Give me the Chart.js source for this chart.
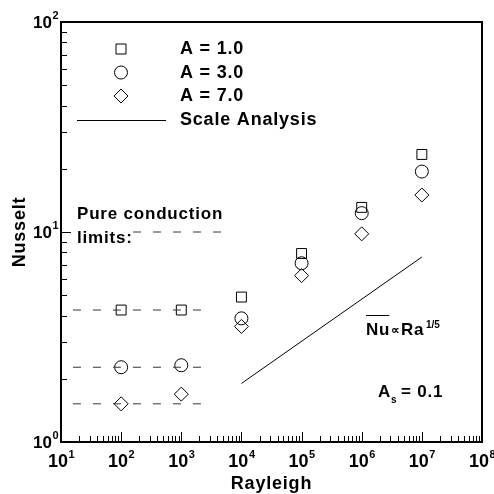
<!DOCTYPE html>
<html>
<head>
<meta charset="utf-8">
<script src="https://cdn.jsdelivr.net/npm/chart.js@4.4.1/dist/chart.umd.min.js"></script>
<style>
body{margin:0;background:#fff;}
canvas{display:block;}
</style>
</head>
<body>
<canvas id="nusseltChart" width="494" height="494"></canvas>
<script>
// Nusselt vs Rayleigh, three aspect ratios
const rayleigh = [1e2, 1e3, 1e4, 1e5, 1e6, 1e7];
const nuA1 = [4.25, 4.25, 4.9, 7.9, 13.1, 23.4];
const nuA3 = [2.27, 2.32, 3.88, 7.1, 12.3, 19.4];
const nuA7 = [1.52, 1.69, 3.55, 6.2, 9.8, 15.0];

// scale analysis, Nu ~ Ra^(1/5)
const scaleRa = [1e4, 1e7];
const scaleNu = [1.9, 7.6];

// pure conduction limits (dashed)
const condRa = [15.8, 2220];
const condA1 = 4.25;
const condA3 = 2.27;
const condA7 = 1.52;
const condKeyRa = [158, 5150];
const condKeyNu = 10;

const xExponents = [1, 2, 3, 4, 5, 6, 7, 8];
const yExponents = [0, 1, 2];

const legendLabels = ["A = 1.0", "A = 3.0", "A = 7.0", "Scale Analysis"];

const FONT = '"Liberation Sans", Arial, Helvetica, sans-serif';

function pts(xs, ys) {
    return xs.map((x, i) => ({x: x, y: Array.isArray(ys) ? ys[i] : ys}));
}

function dashed(xs, y) {
    return {
        data: pts(xs, y),
        showLine: true,
        pointRadius: 0,
        borderColor: '#333',
        borderWidth: 1,
        borderDash: [8, 12]
    };
}

function markers(ys, style, r) {
    return {
        data: pts(rayleigh, ys),
        showLine: false,
        pointStyle: style,
        pointRadius: r,
        pointHoverRadius: r,
        pointBorderWidth: 1,
        borderColor: '#000',
        backgroundColor: 'rgba(0,0,0,0)'
    };
}

function decadeValues(min, max) {
    let out = [];
    for (let d = Math.floor(Math.log10(min)); d <= Math.ceil(Math.log10(max)); d++) {
        for (let m = 1; m <= 9; m++) {
            let v = m * Math.pow(10, d);
            if (v >= min * 0.999 && v <= max * 1.001) out.push({v: v, major: m === 1});
        }
    }
    return out;
}

function drawPow(ctx, base, exp, x, y, size, esize, align) {
    ctx.font = 'bold ' + size + 'px ' + FONT;
    let wb = ctx.measureText(base).width;
    ctx.font = 'bold ' + esize + 'px ' + FONT;
    let we = ctx.measureText(exp).width;
    let x0 = align === 'right' ? x - wb - we : x - (wb + we) / 2;
    ctx.textAlign = 'left';
    ctx.textBaseline = 'alphabetic';
    ctx.font = 'bold ' + size + 'px ' + FONT;
    ctx.fillText(base, x0, y);
    ctx.font = 'bold ' + esize + 'px ' + FONT;
    ctx.fillText(exp, x0 + wb + 0.5, y - size * 0.52);
}

const framePlugin = {
    id: 'frame',
    afterDraw(chart) {
        const ctx = chart.ctx, a = chart.chartArea;
        const xs = chart.scales.x, ys = chart.scales.y;
        ctx.save();
        ctx.strokeStyle = '#000';
        ctx.fillStyle = '#000';
        ctx.lineWidth = 1;

        // inward ticks
        ctx.beginPath();
        decadeValues(xs.min, xs.max).forEach(t => {
            let px = Math.round(xs.getPixelForValue(t.v)) + 0.5;
            ctx.moveTo(px, a.bottom);
            ctx.lineTo(px, a.bottom - (t.major ? 10 : 6));
        });
        decadeValues(ys.min, ys.max).forEach(t => {
            let py = Math.round(ys.getPixelForValue(t.v)) + 0.5;
            ctx.moveTo(a.left, py);
            ctx.lineTo(a.left + (t.major ? 10 : 6), py);
        });
        ctx.stroke();

        ctx.lineWidth = 2;
        ctx.strokeRect(a.left, a.top, a.right - a.left, a.bottom - a.top);

        // tick labels
        xExponents.forEach(e => {
            drawPow(ctx, '10', String(e), xs.getPixelForValue(Math.pow(10, e)), a.bottom + 25, 18, 11, 'center');
        });
        yExponents.forEach(e => {
            drawPow(ctx, '10', String(e), a.left - 3, ys.getPixelForValue(Math.pow(10, e)) + 6, 17, 11, 'right');
        });

        ctx.letterSpacing = '0.8px';

        // axis titles
        ctx.font = 'bold 18px ' + FONT;
        ctx.textAlign = 'center';
        ctx.textBaseline = 'alphabetic';
        ctx.fillText('Rayleigh', (a.left + a.right) / 2, 489);
        ctx.save();
        ctx.translate(25, (a.top + a.bottom) / 2);
        ctx.rotate(-Math.PI / 2);
        ctx.fillText('Nusselt', 0, 0);
        ctx.restore();

        // legend
        ctx.lineWidth = 1;
        let lx = 121, rows = [49, 72.5, 96, 120];
        ctx.beginPath();
        ctx.rect(lx - 5, rows[0] - 5, 10, 10);
        ctx.moveTo(lx + 6.5, rows[1]);
        ctx.arc(lx, rows[1], 6.5, 0, Math.PI * 2);
        ctx.moveTo(lx, rows[2] - 7);
        ctx.lineTo(lx + 7, rows[2]);
        ctx.lineTo(lx, rows[2] + 7);
        ctx.lineTo(lx - 7, rows[2]);
        ctx.closePath();
        ctx.moveTo(77, rows[3] + 0.5);
        ctx.lineTo(166, rows[3] + 0.5);
        ctx.stroke();

        ctx.font = 'bold 18px ' + FONT;
        ctx.textAlign = 'left';
        legendLabels.forEach((t, i) => ctx.fillText(t, 180, rows[i] + 5));

        // annotations
        ctx.font = 'bold 17px ' + FONT;
        ctx.fillText('Pure conduction', 77, 219);
        ctx.fillText('limits:', 77, 243);

        ctx.fillText('Nu', 366, 335);
        let wNu = ctx.measureText('Nu').width;
        ctx.beginPath();
        ctx.moveTo(366, 315.5);
        ctx.lineTo(365 + wNu, 315.5);
        ctx.stroke();
        ctx.letterSpacing = '0px';
        ctx.font = 'bold 12px ' + FONT;
        ctx.fillText('\u221D', 366 + wNu + 1, 334);
        ctx.letterSpacing = '0.8px';
        ctx.font = 'bold 17px ' + FONT;
        ctx.fillText('Ra', 401, 335);
        ctx.letterSpacing = '0px';
        ctx.font = 'bold 10px ' + FONT;
        ctx.fillText('1/5', 426, 328);

        ctx.letterSpacing = '0.8px';
        ctx.font = 'bold 17px ' + FONT;
        ctx.fillText('A', 378, 397);
        ctx.font = 'bold 10px ' + FONT;
        ctx.fillText('s', 391, 403);
        ctx.font = 'bold 17px ' + FONT;
        ctx.fillText('= 0.1', 401, 397);

        ctx.restore();
    }
};

new Chart(document.getElementById('nusseltChart'), {
    type: 'scatter',
    data: {
        datasets: [
            dashed(condKeyRa, condKeyNu),
            dashed(condRa, condA1),
            dashed(condRa, condA3),
            dashed(condRa, condA7),
            {
                data: pts(scaleRa, scaleNu),
                showLine: true,
                pointRadius: 0,
                borderColor: '#000',
                borderWidth: 1
            },
            markers(nuA1, 'rect', 7),
            markers(nuA3, 'circle', 6.5),
            markers(nuA7, 'rectRot', 7)
        ]
    },
    options: {
        responsive: false,
        animation: false,
        layout: {padding: {left: 61, top: 22, right: 12, bottom: 52}},
        plugins: {
            legend: {display: false},
            tooltip: {enabled: false}
        },
        scales: {
            x: {type: 'logarithmic', min: 10, max: 1e8, display: false},
            y: {type: 'logarithmic', min: 1, max: 100, display: false}
        }
    },
    plugins: [framePlugin]
});
</script>
</body>
</html>
